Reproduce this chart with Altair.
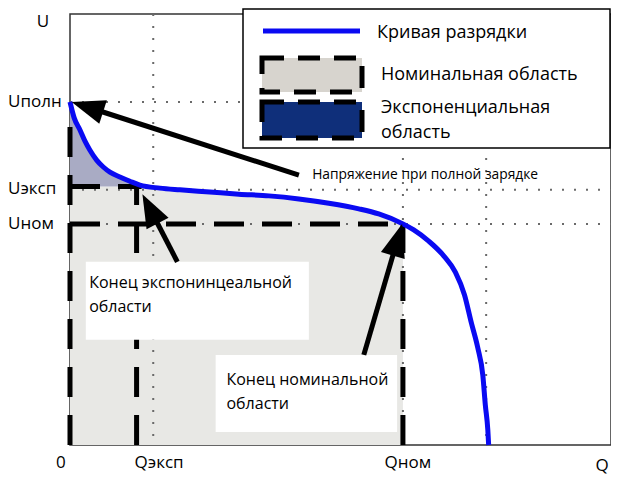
import math
import altair as alt
import pandas as pd

# ---- data (arbitrary units) ----
Q = [0.00, 0.05, 0.12, 0.18, 0.24, 0.32, 0.40, 0.48, 0.60, 0.72, 0.84, 1.08, 1.32,
     1.68, 2.03, 2.39, 2.75, 3.11, 3.47, 3.71, 4.00, 4.13, 4.31, 4.49, 4.63, 4.74,
     4.82, 4.90, 4.96, 4.99, 5.02, 5.03]
U = [7.96, 7.59, 7.31, 7.05, 6.84, 6.61, 6.45, 6.33, 6.22, 6.12, 6.03, 5.96, 5.92,
     5.87, 5.82, 5.78, 5.71, 5.61, 5.48, 5.36, 5.13, 4.99, 4.73, 4.39, 4.01, 3.48,
     2.85, 2.25, 1.62, 0.93, 0.35, 0.00]

U_FULL, U_EXP, U_NOM = 7.96, 6.00, 5.13
Q_EXP, Q_NOM, Q_EXP_END = 0.80, 4.00, 0.86
GRID_Q = [1.0, 4.0, 5.0]
GRID_U = [7.96, 5.92, 5.13]

X_TICK_LABELS = ["0", "Qэксп", "Qном"]
X_TICK_POS = [-0.11, 1.07, 4.06]
Y_TICK_LABELS = ["Uполн", "Uэксп", "Uном"]
Y_TICK_POS = [U_FULL, 5.95, U_NOM]

LEGEND_LABELS = ["Кривая разрядки", "Номинальная область", "Экспоненциальная", "область"]

FONT = "Open Sans"
W, H = 541, 431
X_DOM, Y_DOM = [0, 6.5], [0, 10]
PXQ, PXU = W / (X_DOM[1] - X_DOM[0]), H / (Y_DOM[1] - Y_DOM[0])

xs = alt.Scale(domain=X_DOM, nice=False, zero=False)
ys = alt.Scale(domain=Y_DOM, nice=False, zero=False)


def X(f):
    return alt.X(f"{f}:Q", scale=xs, axis=None)


def X2(f):
    return alt.X2(f"{f}:Q")


def Y(f):
    return alt.Y(f"{f}:Q", scale=ys, axis=None)


def Y2(f):
    return alt.Y2(f"{f}:Q")


curve = pd.DataFrame({"q": Q, "u": U})

# nominal (grey) area: below curve and below U_EXP, up to Q_NOM
nom = curve[curve.q <= Q_NOM + 1e-9].copy()
nom["uf"] = nom.u.clip(upper=U_EXP)
nom["b"] = 0.0
gray_area = alt.Chart(nom).mark_area(color="#e8e8e5").encode(
    x=X("q"), y=Y("uf"), y2=Y2("b"))

# exponential area: between curve and U_EXP
ex = curve[curve.q <= Q_EXP_END].copy()
ex = pd.concat([ex, pd.DataFrame({"q": [Q_EXP_END], "u": [U_EXP]})], ignore_index=True)
ex["b"] = U_EXP
exp_area = alt.Chart(ex).mark_area(color="#a9abc4", interpolate="monotone").encode(
    x=X("q"), y=Y("u"), y2=Y2("b"))

grid_style = dict(color="#6a6a6a", strokeDash=[2, 10], strokeWidth=2)
grid_v = alt.Chart(pd.DataFrame({"q": GRID_Q})).mark_rule(**grid_style).encode(
    x=X("q"), y=alt.value(0), y2=alt.value(H))
grid_h = alt.Chart(pd.DataFrame({"u": GRID_U})).mark_rule(**grid_style).encode(
    y=Y("u"), x=alt.value(0), x2=alt.value(W))

dash_df = pd.DataFrame({
    "q": [0, 0, 0, Q_EXP, Q_NOM],
    "q2": [Q_EXP_END, Q_NOM, 0, Q_EXP, Q_NOM],
    "u": [U_EXP, U_NOM, 0, 0, 0],
    "u2": [U_EXP, U_NOM, 7.45, U_EXP, U_NOM],
})
dashes = alt.Chart(dash_df).mark_rule(color="black", strokeWidth=5, strokeDash=[30, 18]).encode(
    x=X("q"), x2=X2("q2"), y=Y("u"), y2=Y2("u2"))

line = alt.Chart(curve).mark_line(color="#0a0af2", strokeWidth=5, interpolate="monotone").encode(
    x=X("q"), y=Y("u"), order="q:Q")

boxes = alt.Chart(pd.DataFrame({
    "q": [0.19, 1.75], "q2": [2.87, 3.93], "u": [2.44, 0.30], "u2": [4.25, 2.09]
})).mark_rect(fill="white").encode(x=X("q"), x2=X2("q2"), y=Y("u"), y2=Y2("u2"))

# arrows: (tip q, tip u, tail q, tail u)
ARROWS = [(0.02, 7.96, 2.75, 6.26), (0.87, 5.82, 1.29, 4.25), (3.99, 5.13, 3.53, 2.09)]
HEAD = 33
arrow_layers = []
for tq, tu, sq, su in ARROWS:
    dx = (tq - sq) * PXQ
    dy = -(tu - su) * PXU
    L = math.hypot(dx, dy)
    ang = math.degrees(math.atan2(dx, -dy)) % 360
    eq = tq - 0.6 * HEAD * dx / L / PXQ
    eu = tu + 0.6 * HEAD * dy / L / PXU
    d = pd.DataFrame({"q": [sq], "u": [su], "q2": [eq], "u2": [eu], "tq": [tq], "tu": [tu]})
    arrow_layers.append(alt.Chart(d).mark_rule(color="black", strokeWidth=5).encode(
        x=X("q"), y=Y("u"), x2=X2("q2"), y2=Y2("u2")))
    arrow_layers.append(alt.Chart(d).mark_point(
        shape="M0,0L-0.75,2L0.75,2Z", filled=True, color="black", opacity=1,
        size=HEAD * HEAD, angle=ang).encode(x=X("tq"), y=Y("tu")))

one = pd.DataFrame({"a": [0]})


def txt_data(text, q, u, size=16, align="left"):
    return alt.Chart(pd.DataFrame({"q": [q], "u": [u]})).mark_text(
        text=text, font=FONT, fontSize=size, align=align, baseline="middle", color="black"
    ).encode(x=X("q"), y=Y("u"))


def txt_px(text, x, y, size=16, align="left"):
    return alt.Chart(one).mark_text(
        text=text, font=FONT, fontSize=size, align=align, baseline="middle", color="black"
    ).encode(x=alt.value(x), y=alt.value(y))


texts = [
    txt_data("Конец экспонинцеальной", 0.23, 3.76, 16),
    txt_data("области", 0.23, 3.20, 16),
    txt_data("Конец номинальной", 1.88, 1.51, 16),
    txt_data("области", 1.88, 0.95, 16),
    txt_data("Напряжение при полной зарядке", 2.91, 6.26, 13.8),
]
for lab, pos in zip(X_TICK_LABELS, X_TICK_POS):
    texts.append(alt.Chart(pd.DataFrame({"q": [pos]})).mark_text(
        text=lab, font=FONT, fontSize=17, align="center", baseline="middle", color="black"
    ).encode(x=X("q"), y=alt.value(449)))
for lab, pos in zip(Y_TICK_LABELS, Y_TICK_POS):
    texts.append(alt.Chart(pd.DataFrame({"u": [pos]})).mark_text(
        text=lab, font=FONT, fontSize=17, align="left", baseline="middle", color="black"
    ).encode(y=Y("u"), x=alt.value(-62)))
texts.append(txt_px("U", -27, 8, 17, "center"))
texts.append(txt_px("Q", W - 9, 452, 17, "center"))

# legend
leg = [
    alt.Chart(one).mark_rect(fill="white", stroke="black", strokeWidth=1.5).encode(
        x=alt.value(173), x2=alt.value(W - 1), y=alt.value(-5), y2=alt.value(134)),
    alt.Chart(one).mark_rule(color="#0a0af2", strokeWidth=5).encode(
        x=alt.value(193), x2=alt.value(290), y=alt.value(17)),
    alt.Chart(one).mark_rect(fill="#d7d4ce", stroke="black", strokeWidth=5,
                             strokeDash=[22, 14]).encode(
        x=alt.value(192), x2=alt.value(292), y=alt.value(44), y2=alt.value(78)),
    alt.Chart(one).mark_rect(fill="#0f2f7a", stroke="black", strokeWidth=5,
                             strokeDash=[22, 14]).encode(
        x=alt.value(192), x2=alt.value(292), y=alt.value(88), y2=alt.value(124)),
    txt_px(LEGEND_LABELS[0], 307, 19, 18),
    txt_px(LEGEND_LABELS[1], 311, 61, 18),
    txt_px(LEGEND_LABELS[2], 311, 94, 18),
    txt_px(LEGEND_LABELS[3], 311, 119, 18),
]

chart = alt.layer(
    gray_area, exp_area, grid_v, grid_h, dashes, line, boxes, *arrow_layers, *texts, *leg
).properties(
    width=W, height=H,
    padding={"left": 62, "top": 6, "right": 0, "bottom": 30},
    autosize=alt.AutoSizeParams(type="none"),
    background="white",
).configure_view(stroke="#333", strokeWidth=1.5)

chart.save("out.html", embed_options={"renderer": "svg", "actions": False})
